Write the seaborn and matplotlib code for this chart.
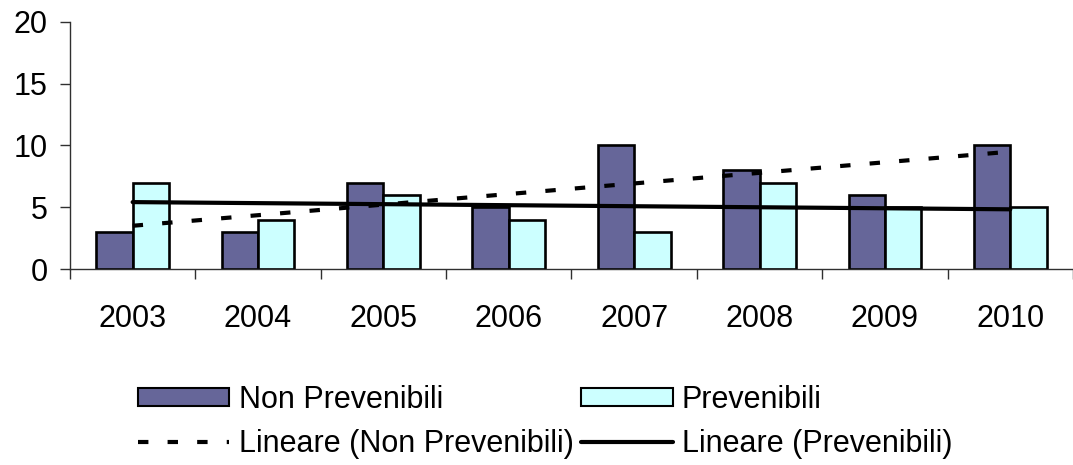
import numpy as np
import pandas as pd
import matplotlib
matplotlib.use("Agg")
import matplotlib.pyplot as plt
from matplotlib.patches import Patch
from matplotlib.lines import Line2D
from matplotlib.ticker import FixedLocator, MultipleLocator
import seaborn as sns

# Data
years = ["2003", "2004", "2005", "2006", "2007", "2008", "2009", "2010"]
non_prevenibili = [3, 3, 7, 5, 10, 8, 6, 10]
prevenibili = [7, 4, 6, 4, 3, 7, 5, 5]
series_names = ["Non Prevenibili", "Prevenibili"]
colors = {"Non Prevenibili": "#666699", "Prevenibili": "#CCFFFF"}

sns.set_theme(style="white")
plt.rcParams["font.family"] = ["Liberation Sans", "DejaVu Sans"]
plt.rcParams["text.color"] = "black"
plt.rcParams["xtick.labelcolor"] = "black"
plt.rcParams["ytick.labelcolor"] = "black"

df = pd.DataFrame({
    "Anno": years * 2,
    "Valore": non_prevenibili + prevenibili,
    "Serie": [series_names[0]] * len(years) + [series_names[1]] * len(years),
})

fig = plt.figure(figsize=(10.73, 4.65), dpi=100)
ax = fig.add_axes([0.0652, 0.4215, 0.9348, 0.5312])

sns.barplot(data=df, x="Anno", y="Valore", hue="Serie", hue_order=series_names,
            palette=colors, width=0.58, gap=0, edgecolor="black", linewidth=1.9,
            saturation=1, legend=False, ax=ax)

# Linear trend lines fitted over the category positions
xpos = np.arange(len(years))
fit_np = np.polyval(np.polyfit(xpos, non_prevenibili, 1), xpos)
fit_p = np.polyval(np.polyfit(xpos, prevenibili, 1), xpos)
ax.plot(xpos, fit_np, color="black", lw=3.0, linestyle=(0, (2.5, 4.6)),
        dash_capstyle="butt", zorder=5)
ax.plot(xpos, fit_p, color="black", lw=3.0, linestyle="-", zorder=5)

ax.set_xlim(-0.5, len(years) - 0.5)
ax.set_ylim(0, 20)
ax.yaxis.set_major_locator(MultipleLocator(5))
ax.set_xlabel("")
ax.set_ylabel("")

for side in ["top", "right"]:
    ax.spines[side].set_visible(False)
for side in ["left", "bottom"]:
    ax.spines[side].set_color("#303030")
    ax.spines[side].set_linewidth(1.0)

ax.xaxis.set_minor_locator(FixedLocator(np.arange(-0.5, len(years), 1.0)))
ax.tick_params(axis="x", which="major", length=0, pad=25, labelsize=22, labelcolor="black")
ax.tick_params(axis="x", which="minor", bottom=True, length=7, width=1.0, color="#303030")
ax.tick_params(axis="y", which="major", left=True, length=7, width=1.0, color="#303030",
               pad=9, labelsize=22, labelcolor="black")

handles = [
    Patch(facecolor=colors["Non Prevenibili"], edgecolor="black", linewidth=1.5),
    Line2D([], [], color="black", lw=3.0, linestyle=(0, (2.5, 4.6)), dash_capstyle="butt"),
    Patch(facecolor=colors["Prevenibili"], edgecolor="black", linewidth=1.5),
    Line2D([], [], color="black", lw=3.0, linestyle="-"),
]
labels = ["Non Prevenibili", "Lineare (Non Prevenibili)",
          "Prevenibili", "Lineare (Prevenibili)"]
leg = fig.legend(handles, labels, ncol=2, loc="center", bbox_to_anchor=(0.508, 0.093),
                 frameon=False, fontsize=22, handlelength=3.0, handleheight=0.55,
                 handletextpad=0.3, columnspacing=0.25, labelspacing=0.45)
for txt in leg.get_texts():
    txt.set_color("black")

fig.savefig("out.png", dpi=100)
